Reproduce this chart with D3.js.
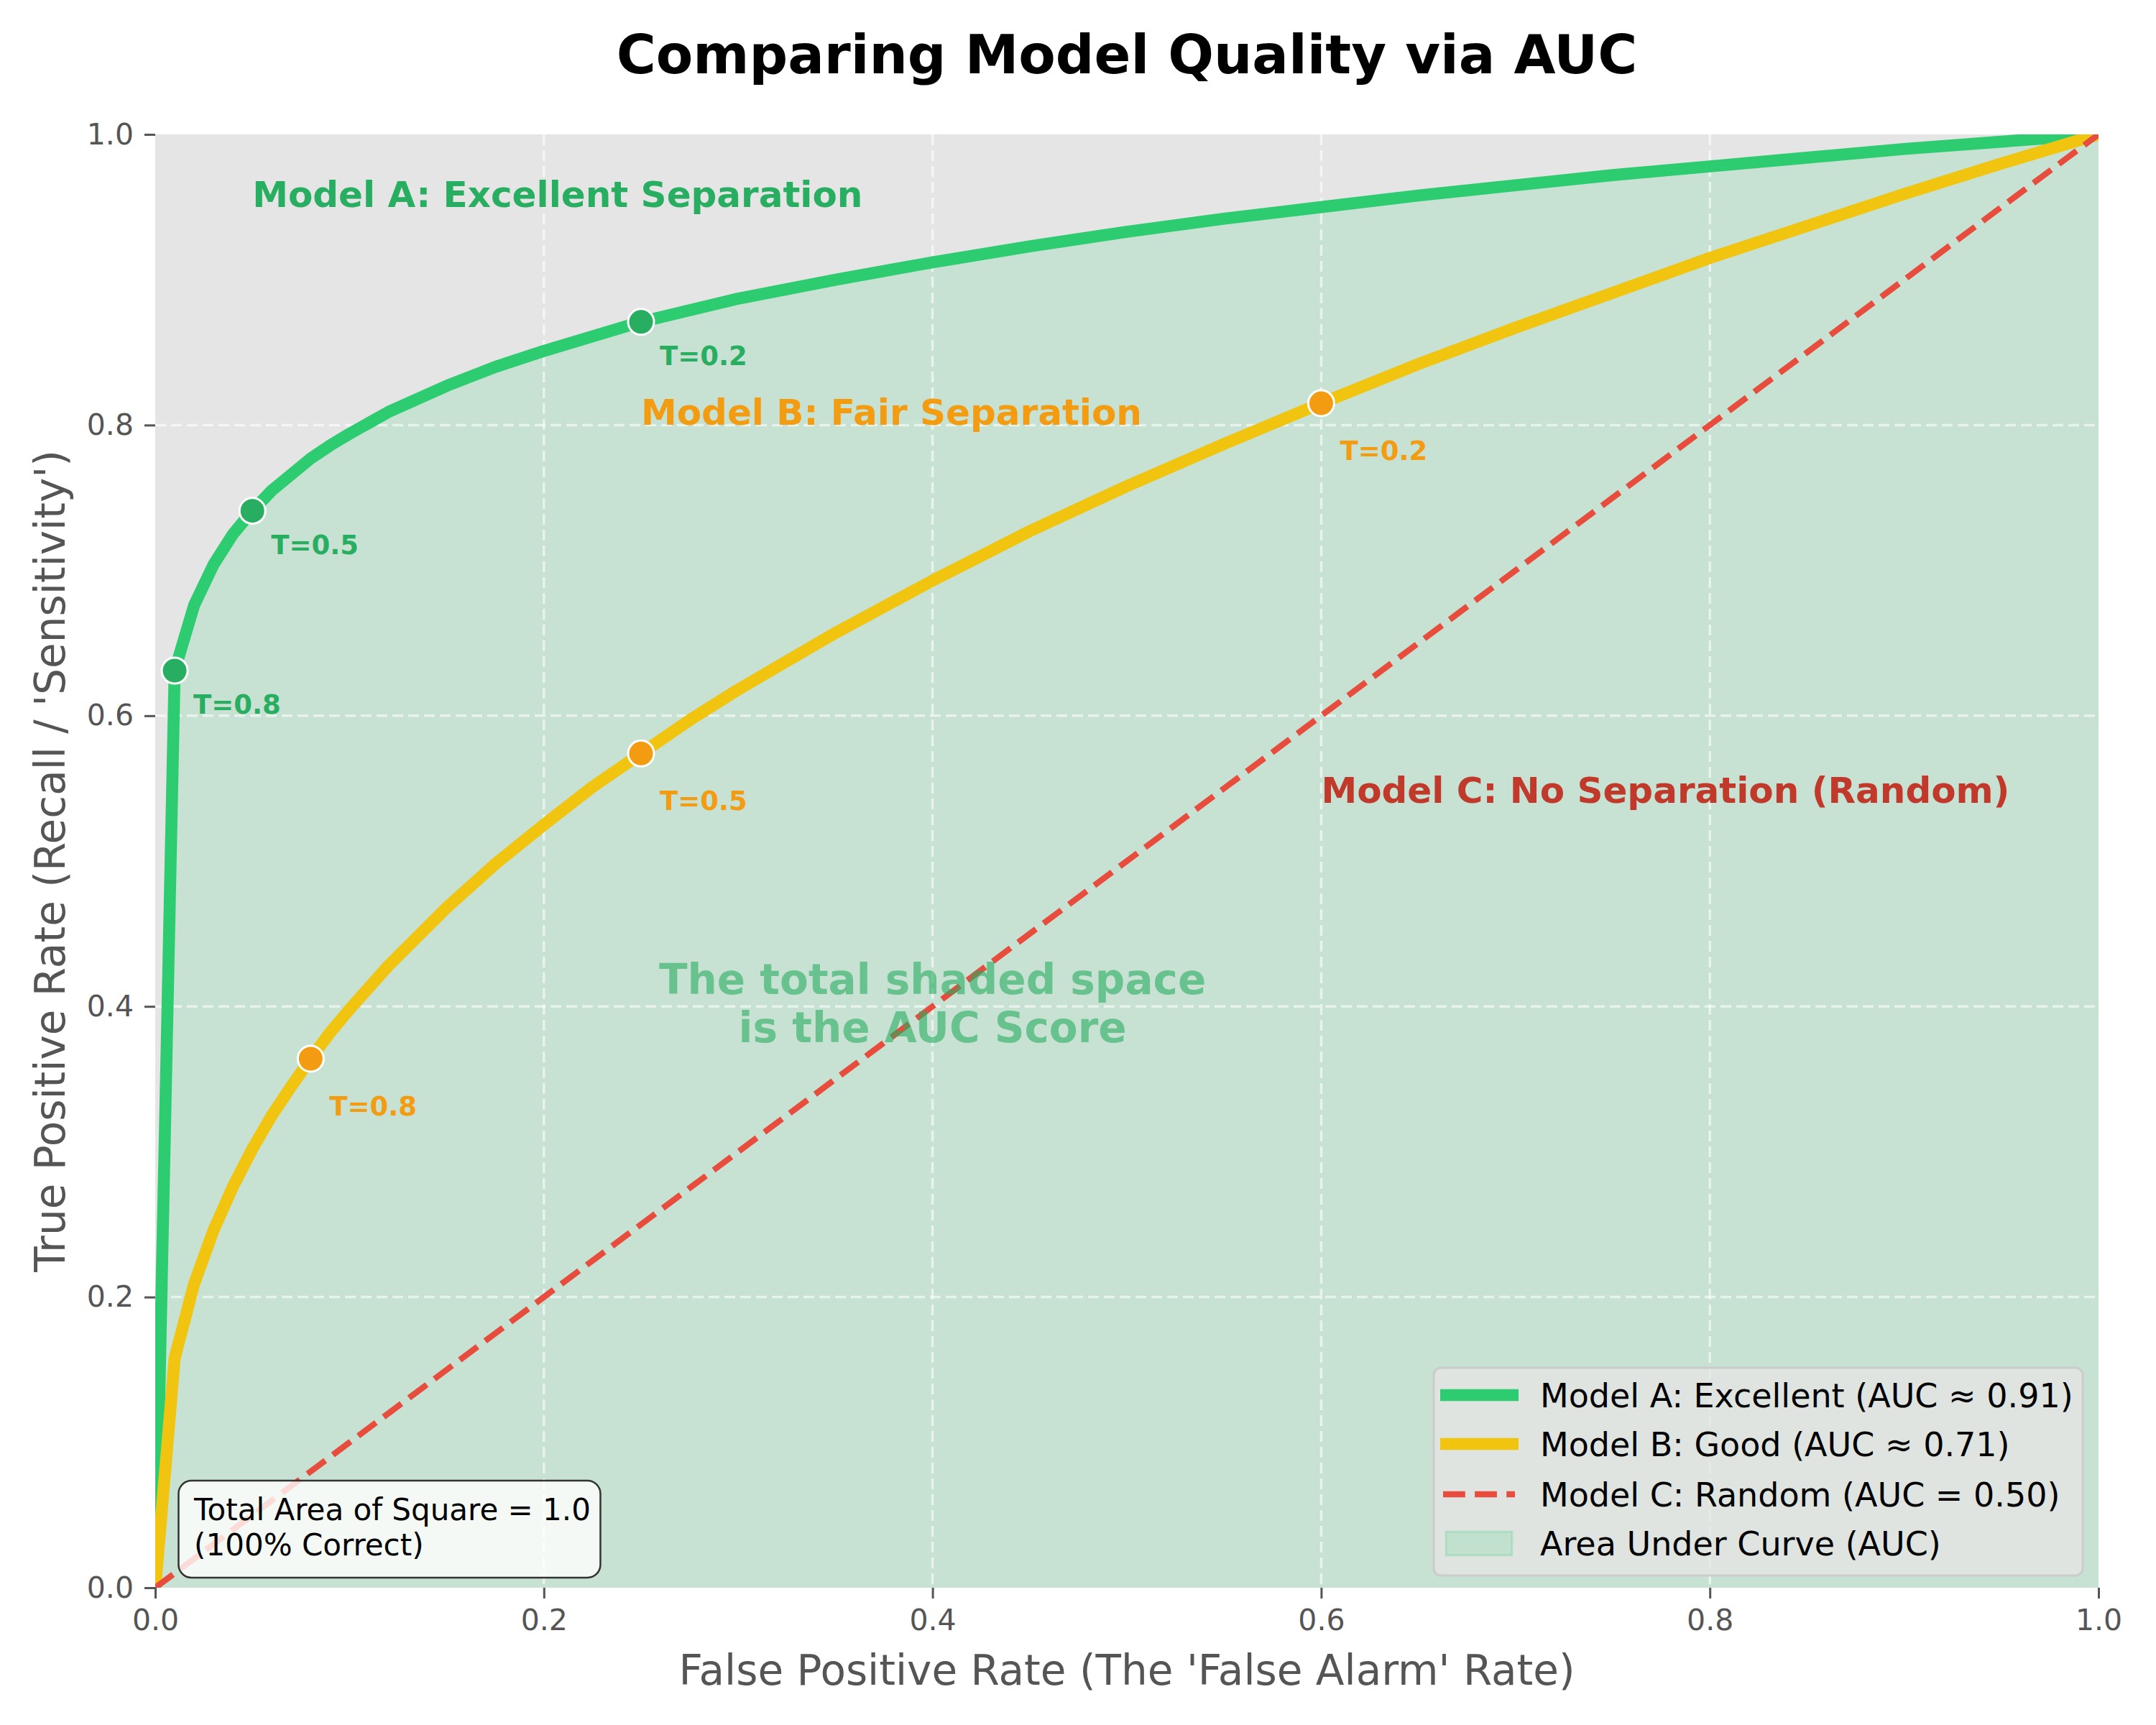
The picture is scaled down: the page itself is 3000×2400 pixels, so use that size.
<!DOCTYPE html>
<html>
<head>
<meta charset="utf-8">
<script src="https://cdn.jsdelivr.net/npm/d3@7"></script>
<style>
  body { margin: 0; background: #fff; }
  text { font-family: "DejaVu Sans", sans-serif; }
</style>
</head>
<body>
<div id="chart"></div>
<script>

////////////////////////////////////////////////////////////////
// Data

// false positive rate samples shared by both curves
let fpr = [0, 0.01, 0.02, 0.03, 0.04, 0.05, 0.06, 0.07, 0.08, 0.09, 0.1, 0.12, 0.15,
           0.175, 0.2, 0.225, 0.25, 0.275, 0.3, 0.35, 0.4, 0.45, 0.5, 0.55, 0.6,
           0.65, 0.7, 0.75, 0.8, 0.85, 0.9, 0.95, 1.0];

// Model A: excellent
let tprA = [0, 0.631, 0.676, 0.704, 0.725, 0.741, 0.755, 0.766, 0.777, 0.786, 0.794, 0.809, 0.827,
            0.840, 0.851, 0.861, 0.871, 0.879, 0.887, 0.900, 0.912, 0.923, 0.933, 0.942, 0.950,
            0.958, 0.965, 0.972, 0.978, 0.984, 0.990, 0.995, 1.0];

// Model B: good
let tprB = [0, 0.158, 0.209, 0.246, 0.276, 0.302, 0.325, 0.345, 0.364, 0.382, 0.398, 0.428, 0.468,
            0.498, 0.525, 0.551, 0.574, 0.597, 0.618, 0.657, 0.693, 0.727, 0.758, 0.787, 0.815,
            0.842, 0.867, 0.891, 0.915, 0.937, 0.959, 0.980, 1.0];

// Model C: random diagonal
let fprC = [0, 1];
let tprC = [0, 1];

// threshold markers
let threshLabels = ["T=0.8", "T=0.5", "T=0.2"];
let threshAx = [0.01, 0.05, 0.25];
let threshAy = [0.631, 0.741, 0.871];
let threshBx = [0.08, 0.25, 0.6];
let threshBy = [0.364, 0.574, 0.815];

let tickValues = [0, 0.2, 0.4, 0.6, 0.8, 1.0];

let legendLabels = [
  "Model A: Excellent (AUC \u2248 0.91)",
  "Model B: Good (AUC \u2248 0.71)",
  "Model C: Random (AUC = 0.50)",
  "Area Under Curve (AUC)"
];


////////////////////////////////////////////////////////////////
// Setup

let width = 3000, height = 2400;
let pLeft = 216, pRight = 2920, pTop = 187, pBottom = 2209;

let svg = d3.select("#chart").append("svg")
  .attr("width", width)
  .attr("height", height)

let x = d3.scaleLinear().domain([0, 1]).range([pLeft, pRight]);
let y = d3.scaleLinear().domain([0, 1]).range([pBottom, pTop]);

let green = "#2ecc71", darkGreen = "#27ae60";
let yellow = "#f1c40f", orange = "#f39c12";
let red = "#e74c3c", darkRed = "#c0392b";

svg.append("clipPath")
  .attr("id", "plotClip")
  .append("rect")
  .attr("x", pLeft).attr("y", pTop)
  .attr("width", pRight - pLeft).attr("height", pBottom - pTop)

// grey panel
svg.append("rect")
  .attr("x", pLeft).attr("y", pTop)
  .attr("width", pRight - pLeft).attr("height", pBottom - pTop)
  .attr("fill", "#e5e5e5")

let plot = svg.append("g").attr("clip-path", "url(#plotClip)")

// area under model A
let pointsA = fpr.map((d, i) => [d, tprA[i]]);
let pointsB = fpr.map((d, i) => [d, tprB[i]]);
let pointsC = fprC.map((d, i) => [d, tprC[i]]);

plot.append("path")
  .attr("d", d3.area().x(d => x(d[0])).y0(y(0)).y1(d => y(d[1]))(pointsA))
  .attr("fill", green)
  .attr("fill-opacity", 0.16)

// dashed grid
plot.selectAll(".gridx")
  .data(tickValues.slice(1, -1))
  .enter()
  .append("line")
  .attr("x1", d => x(d)).attr("x2", d => x(d))
  .attr("y1", pTop).attr("y2", pBottom)
  .attr("stroke", "#ffffff").attr("stroke-opacity", 0.6)
  .attr("stroke-width", 3.5).attr("stroke-dasharray", "15,7")

plot.selectAll(".gridy")
  .data(tickValues.slice(1, -1))
  .enter()
  .append("line")
  .attr("y1", d => y(d)).attr("y2", d => y(d))
  .attr("x1", pLeft).attr("x2", pRight)
  .attr("stroke", "#ffffff").attr("stroke-opacity", 0.6)
  .attr("stroke-width", 3.5).attr("stroke-dasharray", "15,7")

// curves
let line = d3.line().x(d => x(d[0])).y(d => y(d[1]));

plot.append("path")
  .attr("d", line(pointsA))
  .attr("fill", "none").attr("stroke", green)
  .attr("stroke-width", 16.7).attr("stroke-linejoin", "round")

plot.append("path")
  .attr("d", line(pointsB))
  .attr("fill", "none").attr("stroke", yellow)
  .attr("stroke-width", 16.7).attr("stroke-linejoin", "round")

plot.append("path")
  .attr("d", line(pointsC))
  .attr("fill", "none").attr("stroke", red)
  .attr("stroke-width", 8.3).attr("stroke-dasharray", "30.8,13.3")


////////////////////////////////////////////////////////////////
// Threshold markers

function drawThresholds(xs, ys, color, dy) {
  svg.selectAll(null)
    .data(xs)
    .enter()
    .append("circle")
    .attr("cx", d => x(d))
    .attr("cy", (d, i) => y(ys[i]))
    .attr("r", 18)
    .attr("fill", color)
    .attr("stroke", "#ffffff")
    .attr("stroke-width", 3)

  svg.selectAll(null)
    .data(xs)
    .enter()
    .append("text")
    .attr("x", d => x(d) + 26)
    .attr("y", (d, i) => y(ys[i]) + dy)
    .attr("font-size", 37)
    .attr("font-weight", "bold")
    .attr("fill", color)
    .text((d, i) => threshLabels[i])
}

drawThresholds(threshAx, threshAy, darkGreen, 60)
drawThresholds(threshBx, threshBy, orange, 79)


////////////////////////////////////////////////////////////////
// Annotations

function note(tx, ty, str, color) {
  svg.append("text")
    .attr("x", x(tx)).attr("y", y(ty))
    .attr("font-size", 50).attr("font-weight", "bold")
    .attr("fill", color)
    .text(str)
}

note(0.05, 0.95, "Model A: Excellent Separation", darkGreen)
note(0.25, 0.80, "Model B: Fair Separation", orange)
note(0.60, 0.54, "Model C: No Separation (Random)", darkRed)

let auc = svg.append("text")
  .attr("x", x(0.4)).attr("y", y(0.4))
  .attr("text-anchor", "middle")
  .attr("font-size", 58).attr("font-weight", "bold")
  .attr("fill", darkGreen).attr("fill-opacity", 0.6)
auc.append("tspan").attr("x", x(0.4)).attr("dy", -17).text("The total shaded space")
auc.append("tspan").attr("x", x(0.4)).attr("dy", 67).text("is the AUC Score")

// total area box
svg.append("rect")
  .attr("x", x(0.012)).attr("y", y(0) - 149)
  .attr("width", 587).attr("height", 135)
  .attr("rx", 18)
  .attr("fill", "#ffffff").attr("fill-opacity", 0.8)
  .attr("stroke", "#333333").attr("stroke-width", 2.5)

let box = svg.append("text")
  .attr("x", x(0.02)).attr("y", y(0))
  .attr("font-size", 42).attr("fill", "#000")
box.append("tspan").attr("x", x(0.02)).attr("dy", -94).text("Total Area of Square = 1.0")
box.append("tspan").attr("x", x(0.02)).attr("dy", 49).text("(100% Correct)")


////////////////////////////////////////////////////////////////
// Axes

let xAxis = svg.append("g")
  .attr("transform", `translate(0,${pBottom})`)
  .call(d3.axisBottom(x).tickValues(tickValues).tickFormat(d3.format(".1f"))
    .tickSize(15).tickPadding(15))

let yAxis = svg.append("g")
  .attr("transform", `translate(${pLeft},0)`)
  .call(d3.axisLeft(y).tickValues(tickValues).tickFormat(d3.format(".1f"))
    .tickSize(15).tickPadding(15))

for (let ax of [xAxis, yAxis]) {
  ax.select(".domain").remove()
  ax.selectAll(".tick line").attr("stroke", "#555555").attr("stroke-width", 3)
  ax.selectAll(".tick text")
    .attr("fill", "#555555")
    .attr("font-size", 41)
    .attr("font-family", "DejaVu Sans")
}

svg.append("text")
  .attr("x", (pLeft + pRight) / 2).attr("y", 2344)
  .attr("text-anchor", "middle")
  .attr("font-size", 58).attr("fill", "#555555")
  .text("False Positive Rate (The 'False Alarm' Rate)")

svg.append("text")
  .attr("transform", `translate(90,${(pTop + pBottom) / 2}) rotate(-90)`)
  .attr("text-anchor", "middle")
  .attr("font-size", 58).attr("fill", "#555555")
  .text("True Positive Rate (Recall / 'Sensitivity')")

svg.append("text")
  .attr("x", (pLeft + pRight) / 2).attr("y", 102)
  .attr("text-anchor", "middle")
  .attr("font-size", 75).attr("font-weight", "bold").attr("fill", "#000")
  .text("Comparing Model Quality via AUC")


////////////////////////////////////////////////////////////////
// Legend

let legend = svg.append("g").attr("transform", "translate(1995,1903)")

legend.append("rect")
  .attr("width", 903).attr("height", 289).attr("rx", 10)
  .attr("fill", "#e5e5e5").attr("fill-opacity", 0.8)
  .attr("stroke", "#cccccc").attr("stroke-width", 3)

let rowY = [38, 106, 176, 244];

// handles
legend.append("line")
  .attr("x1", 9).attr("x2", 118).attr("y1", rowY[0]).attr("y2", rowY[0])
  .attr("stroke", green).attr("stroke-width", 16.7)
legend.append("line")
  .attr("x1", 9).attr("x2", 118).attr("y1", rowY[1]).attr("y2", rowY[1])
  .attr("stroke", yellow).attr("stroke-width", 16.7)
legend.append("line")
  .attr("x1", 13).attr("x2", 113).attr("y1", rowY[2]).attr("y2", rowY[2])
  .attr("stroke", red).attr("stroke-width", 8.3).attr("stroke-dasharray", "30.8,13.3")
legend.append("rect")
  .attr("x", 17).attr("y", rowY[3] - 16).attr("width", 92).attr("height", 33)
  .attr("fill", green).attr("fill-opacity", 0.16)
  .attr("stroke", green).attr("stroke-opacity", 0.2).attr("stroke-width", 3)

legend.selectAll(null)
  .data(legendLabels)
  .enter()
  .append("text")
  .attr("x", 148)
  .attr("y", (d, i) => rowY[i] + 17)
  .attr("font-size", 46)
  .attr("fill", "#000")
  .text(d => d)

</script>
</body>
</html>
